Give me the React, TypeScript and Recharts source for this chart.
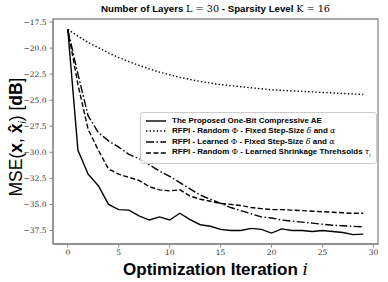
import React from 'react';
import { LineChart, Line, XAxis, YAxis, Legend, ReferenceArea } from 'recharts';

const iterations = Array.from({ length: 30 }, (_, i) => i);

const proposedAE = [
  -18.2, -29.8, -32.1, -33.2, -35.0, -35.5, -35.55, -36.1, -36.5, -36.2,
  -36.5, -35.85, -36.45, -36.95, -37.1, -37.4, -37.5, -37.5, -37.3, -37.4,
  -37.75, -37.35, -37.5, -37.5, -37.6, -37.5, -37.6, -37.7, -37.9, -37.85,
];
const randomFixed = [
  -18.2, -18.85, -19.45, -19.95, -20.45, -20.9, -21.3, -21.65, -22.0, -22.3,
  -22.55, -22.8, -23.0, -23.2, -23.35, -23.5, -23.6, -23.7, -23.8, -23.9,
  -24.0, -24.05, -24.1, -24.15, -24.2, -24.25, -24.3, -24.35, -24.4, -24.45,
];
const learnedFixed = [
  -18.2, -22.5, -26.5, -28.1, -28.9, -29.5, -30.2, -30.6, -31.2, -31.8,
  -32.3, -32.9, -33.5, -34.1, -34.5, -34.9, -35.3, -35.6, -35.9, -36.2,
  -36.3, -36.5, -36.6, -36.7, -36.8, -36.9, -37.0, -37.05, -37.1, -37.15,
];
const randomLearnedTau = [
  -18.2, -23.5, -27.8, -29.8, -31.6, -32.1, -32.4, -32.7, -33.3, -33.6,
  -33.7, -33.6, -34.2, -34.5, -34.7, -34.9, -35.0, -35.1, -35.3, -35.4,
  -35.5, -35.5, -35.55, -35.6, -35.65, -35.7, -35.75, -35.8, -35.85, -35.85,
];

const xTicks = [0, 5, 10, 15, 20, 25, 30];
const yTicks = [-37.5, -35, -32.5, -30, -27.5, -25, -22.5, -20, -17.5];
const X_DOMAIN: [number, number] = [-1.45, 30.45];
const Y_DOMAIN: [number, number] = [-38.8, -17.2];

const data = iterations.map((it, i) => ({
  it,
  ae: proposedAE[i],
  rf: randomFixed[i],
  lf: learnedFixed[i],
  rt: randomLearnedTau[i],
}));

const SANS = '"Liberation Sans", Arial, sans-serif';
const SERIF = '"DejaVu Serif", serif';
const FRAME = '#8a8a8a';

const series = [
  { key: 'ae', dash: undefined },
  { key: 'rf', dash: '1.4 2.2' },
  { key: 'lf', dash: '8 2.4 1.5 2.4' },
  { key: 'rt', dash: '5 2.4' },
];

const math = (s: string) => (
  <span style={{ fontFamily: SERIF, fontStyle: 'italic', fontWeight: 400 }}>{s}</span>
);
const phi = <span style={{ fontFamily: SERIF, fontWeight: 400 }}>Φ</span>;

const legendLabels: React.ReactNode[] = [
  <>The Proposed One-Bit Compressive AE</>,
  <>RFPI - Random {phi} - Fixed Step-Size {math('δ')} and {math('α')}</>,
  <>RFPI - Learned {phi} - Fixed Step-Size {math('δ')} and {math('α')}</>,
  <>RFPI - Random {phi} - Learned Shrinkage Threhsolds {math('τ')}<sub style={{ fontFamily: SERIF, fontStyle: 'italic', fontSize: 5, fontWeight: 400 }}>i</sub></>,
];

const LegendBox = () => (
  <div
    style={{
      border: '1px solid #cccccc',
      borderRadius: 3,
      background: 'rgba(255,255,255,0.85)',
      padding: '3px 5px 3px 5px',
      fontFamily: SANS,
      fontWeight: 700,
      fontSize: 8,
      color: '#000',
      lineHeight: '10.3px',
      whiteSpace: 'nowrap',
    }}
  >
    {series.map((s, i) => (
      <div key={s.key} style={{ display: 'flex', alignItems: 'center' }}>
        <svg width={20} height={8} style={{ marginRight: 6 }}>
          <line x1={0} y1={4} x2={20} y2={4} stroke="#000" strokeWidth={1.4} strokeDasharray={s.dash} />
        </svg>
        <span>{legendLabels[i]}</span>
      </div>
    ))}
  </div>
);

const fmt = (v: number) => (v < 0 ? '\u2212' + Math.abs(v).toFixed(1) : v.toFixed(1));

const tickStyle = { fontFamily: SERIF, fontSize: 7.5, fill: '#333' };

export default function App() {
  return (
    <div style={{ position: 'absolute', left: 0, top: 0, width: 388, height: 282, background: '#fff' }}>
      <div
        style={{
          position: 'absolute',
          left: 53,
          width: 325,
          top: 3,
          textAlign: 'center',
          fontFamily: SANS,
          fontWeight: 700,
          fontSize: 9.7,
          lineHeight: '12px',
          whiteSpace: 'nowrap',
        }}
      >
        Number of Layers <span style={{ fontFamily: SERIF, fontWeight: 400 }}>L = 30</span> - Sparsity Level{' '}
        <span style={{ fontFamily: SERIF, fontWeight: 400 }}>K = 16</span>
      </div>
      <div
        style={{
          position: 'absolute',
          left: 17,
          top: 137,
          transform: 'translate(-50%, -50%) rotate(-90deg)',
          fontFamily: SANS,
          fontSize: 17.5,
          whiteSpace: 'nowrap',
        }}
      >
        MSE(<b>x</b>, <b>x̂</b>
        <sub style={{ fontSize: 10 }}>
          <i>i</i>
        </sub>
        ) [<b>dB</b>]
      </div>
      <div
        style={{
          position: 'absolute',
          left: 53,
          width: 325,
          top: 260,
          textAlign: 'center',
          fontFamily: SANS,
          fontWeight: 700,
          fontSize: 17,
          lineHeight: '18px',
          whiteSpace: 'nowrap',
        }}
      >
        Optimization Iteration <span style={{ fontFamily: SERIF, fontStyle: 'italic', fontWeight: 400 }}>i</span>
      </div>
      <LineChart width={388} height={282} data={data} margin={{ top: 19, right: 10, bottom: 0, left: 0 }}>
        <XAxis
          dataKey="it"
          type="number"
          domain={X_DOMAIN}
          ticks={xTicks}
          interval={0}
          height={38}
          tick={tickStyle}
          tickSize={3.5}
          tickMargin={2}
          axisLine={{ stroke: FRAME, strokeWidth: 1.3 }}
          tickLine={{ stroke: FRAME }}
        />
        <YAxis
          type="number"
          domain={Y_DOMAIN}
          ticks={yTicks}
          interval={0}
          width={53}
          tick={tickStyle}
          tickFormatter={fmt}
          tickSize={3.5}
          tickMargin={3}
          axisLine={{ stroke: FRAME, strokeWidth: 1.3 }}
          tickLine={{ stroke: FRAME }}
        />
        <ReferenceArea
          x1={X_DOMAIN[0]}
          x2={X_DOMAIN[1]}
          y1={Y_DOMAIN[0]}
          y2={Y_DOMAIN[1]}
          fill="none"
          stroke={FRAME}
          strokeWidth={1.3}
          ifOverflow="visible"
        />
        {series.map((s) => (
          <Line
            key={s.key}
            dataKey={s.key}
            type="linear"
            stroke="#000"
            strokeWidth={1.4}
            strokeDasharray={s.dash}
            dot={false}
            activeDot={false}
            isAnimationActive={false}
          />
        ))}
        <Legend
          layout="vertical"
          align="center"
          verticalAlign="middle"
          content={<LegendBox />}
          wrapperStyle={{ position: 'absolute', left: 140, top: 112, width: 'auto' }}
        />
      </LineChart>
    </div>
  );
}
